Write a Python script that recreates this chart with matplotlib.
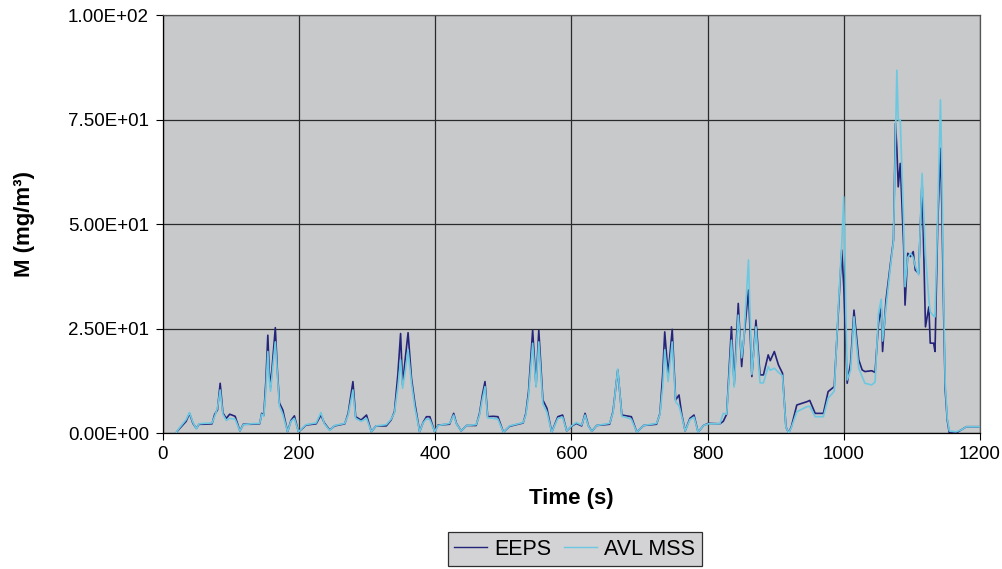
import matplotlib
matplotlib.use("Agg")
import matplotlib.pyplot as plt
from matplotlib.ticker import FuncFormatter

plt.rcParams['font.family'] = ['Liberation Sans', 'DejaVu Sans']

# values (time in s, mass in mg/m3)
time_s = [19, 24, 29, 34, 39, 44, 49, 53, 60, 72, 76, 80, 84, 88, 93, 98, 106, 113, 118, 130,
          142, 145, 148, 151, 154, 156, 158, 162, 165, 168, 171, 176, 183, 188, 193, 199,
          205, 210, 225, 232, 237, 245, 252, 267, 272, 279, 283, 291, 299, 306, 313, 328,
          335, 340, 345, 349, 352, 356, 360, 365, 370, 377, 382, 387, 392, 399,
          404, 421, 427, 431, 438, 446, 460, 465, 469, 473, 477, 485, 492, 500, 509, 529,
          533, 537, 543, 548, 552, 558, 564, 571, 580, 587, 593, 600, 607, 615,
          620, 625, 630, 637, 656, 661, 668, 674, 681, 688, 696, 706, 725, 730, 734, 737,
          742, 748, 753, 758, 762, 767, 774, 780, 786, 794, 801,
          818, 823, 828, 835, 839, 845, 850, 853, 860, 865, 871, 877, 882, 889, 892, 898,
          904, 910, 915, 919, 923, 931, 946, 950, 958, 970, 977, 986, 992, 997, 1000, 1005,
          1010, 1015, 1022, 1027, 1031, 1041, 1046, 1051, 1055, 1057, 1062, 1068, 1073, 1076,
          1078, 1080, 1083, 1088, 1090, 1094, 1098, 1102, 1105, 1110, 1115, 1120, 1125, 1127,
          1132, 1134, 1138, 1142, 1144, 1147, 1149, 1152, 1155, 1165, 1172, 1180, 1200]

eeps = [0, 1.0, 1.9, 2.8, 4.7, 2.3, 1.1, 2.1, 2.1, 2.2, 4.5, 5.5, 11.9, 4.8, 3.5, 4.5, 4.0, 0.5, 2.1, 2.1,
        2.2, 4.7, 4.2, 12.0, 23.4, 15.0, 11.0, 19.0, 25.2, 15.0, 7.2, 5.5, 0.3, 3.0, 4.1, 0.3,
        1.1, 1.9, 2.2, 4.3, 2.4, 0.7, 1.7, 2.2, 4.7, 12.3, 3.9, 3.1, 4.3, 0.3, 1.7, 1.7,
        3.1, 5.1, 14.0, 23.8, 11.5, 18.0, 24.0, 13.1, 7.1, 0.3, 2.5, 3.9, 3.9, 0.3,
        1.9, 2.1, 4.7, 2.3, 0.5, 1.8, 1.8, 4.7, 9.0, 12.3, 3.9, 4.0, 3.9, 0.2, 1.6, 2.4,
        4.7, 10.0, 24.6, 11.2, 24.6, 7.9, 5.9, 0.2, 3.9, 4.3, 0.5, 1.6, 2.3, 1.7,
        4.7, 1.7, 0.4, 1.8, 2.1, 5.1, 15.1, 4.3, 4.1, 3.9, 0.2, 1.8, 2.1, 4.7, 14.0, 24.2,
        13.9, 24.8, 7.9, 9.1, 4.5, 0.5, 3.5, 4.3, 0.2, 1.8, 2.3,
        2.2, 2.8, 4.5, 25.4, 11.5, 31.0, 15.9, 22.2, 34.2, 13.5, 27.0, 13.9, 13.9, 18.7, 17.3, 19.5,
        16.3, 14.3, 1.5, 0.0, 1.5, 6.7, 7.5, 7.8, 4.7, 4.7, 9.9, 11.1, 28.7, 43.8, 35.0, 11.9,
        16.7, 29.4, 17.5, 15.1, 14.7, 14.9, 14.5, 26.3, 30.0, 19.5, 31.8, 39.8, 46.2, 74.1,
        68.0, 58.9, 64.5, 44.6, 30.6, 43.0, 42.2, 43.4, 39.0, 38.2, 60.5, 25.4, 30.2, 21.5,
        21.5, 19.5, 50.0, 68.1, 55.0, 26.2, 10.3, 3.1, 0.0, 0.0, 0.7, 1.5, 1.5]

avl_mss = [0, 1.2, 2.2, 3.2, 4.9, 2.5, 1.0, 2.2, 2.3, 2.4, 4.0, 6.0, 10.3, 4.5, 3.0, 3.5, 3.3, 0.5, 2.0, 2.2,
           2.3, 4.5, 4.0, 10.0, 19.5, 13.0, 10.0, 17.0, 21.8, 14.0, 6.5, 4.5, 0.3, 2.8, 3.5, 0.3,
           1.2, 2.0, 2.4, 4.9, 2.2, 0.6, 1.8, 2.3, 4.3, 10.3, 3.5, 2.8, 3.5, 0.3, 1.7, 2.0,
           3.3, 4.8, 11.0, 17.5, 10.7, 15.0, 19.9, 12.0, 6.1, 0.3, 2.4, 3.4, 3.2, 0.3,
           1.8, 2.3, 4.3, 2.2, 0.5, 1.8, 2.0, 4.3, 8.0, 11.1, 3.6, 3.5, 3.3, 0.2, 1.7, 2.5,
           4.3, 9.0, 21.5, 11.0, 21.8, 7.0, 5.0, 0.2, 3.5, 3.8, 0.5, 1.7, 2.5, 1.9,
           4.3, 1.6, 0.4, 1.8, 2.3, 4.8, 15.3, 4.0, 3.7, 3.3, 0.2, 1.8, 2.3, 4.5, 11.0, 19.9,
           12.3, 21.8, 7.5, 6.5, 4.0, 0.5, 3.2, 3.8, 0.2, 1.8, 2.2,
           2.2, 4.7, 4.5, 22.2, 11.0, 28.2, 18.0, 22.0, 41.4, 14.0, 25.4, 12.0, 12.0, 15.9, 15.0, 15.5,
           14.5, 13.7, 1.5, 0.0, 1.3, 5.1, 6.3, 6.4, 3.9, 3.9, 8.3, 10.0, 30.0, 45.0, 56.5, 12.7,
           15.0, 27.8, 15.5, 13.5, 11.9, 11.5, 12.2, 28.6, 32.0, 22.0, 30.0, 39.0, 46.0, 70.0,
           86.8, 74.9, 74.9, 50.0, 35.0, 42.0, 43.0, 42.0, 40.0, 37.8, 62.1, 42.6, 31.8, 29.0,
           28.0, 27.8, 52.0, 79.7, 63.7, 30.0, 12.0, 3.5, 0.5, 0.3, 0.7, 1.5, 1.5]

fig = plt.figure(figsize=(10.03, 5.69), dpi=100)
ax = fig.add_axes([0.1625, 0.239, 0.8145, 0.7346])
ax.set_facecolor('#c8c9cb')

# AVL MSS is drawn over EEPS, like in the original
ax.plot(time_s, eeps, color='#24247a', lw=1.2, label='EEPS', zorder=2)
ax.plot(time_s, avl_mss, color='#6cc8e0', lw=1.2, label='AVL MSS', zorder=3)

ax.set_xlim(0, 1200)
ax.set_ylim(0, 100)
ax.set_xticks(range(0, 1201, 200))
ax.set_yticks([0, 25, 50, 75, 100])
ax.yaxis.set_major_formatter(FuncFormatter(lambda v, p: f"{v:.2E}"))
ax.grid(True, color='#2a2a2a', lw=0.9)
ax.set_axisbelow(True)
for s in ax.spines.values():
    s.set_color('#555555')
    s.set_linewidth(0.9)
ax.spines['left'].set_color('black')
ax.spines['bottom'].set_color('black')
ax.tick_params(labelsize=13.5, length=5, color='black', direction='out')
ax.tick_params(axis='y', pad=5)
ax.tick_params(axis='x', pad=4)

ax.set_xlabel('Time (s)', fontsize=16, fontweight='bold', labelpad=18)
ax.set_ylabel('M (mg/m³)', fontsize=16, fontweight='bold', labelpad=24)

leg = ax.legend(loc='upper center', bbox_to_anchor=(0.504, -0.237), ncol=2, fontsize=15.5,
                frameon=True, fancybox=False, facecolor='#c8c9cb', edgecolor='black',
                borderaxespad=0, handlelength=1.5, columnspacing=0.6, handletextpad=0.35,
                borderpad=0.3)
leg.get_frame().set_linewidth(0.9)
for line in leg.get_lines():
    line.set_linewidth(1.0)

fig.savefig('out.png', dpi=100)
